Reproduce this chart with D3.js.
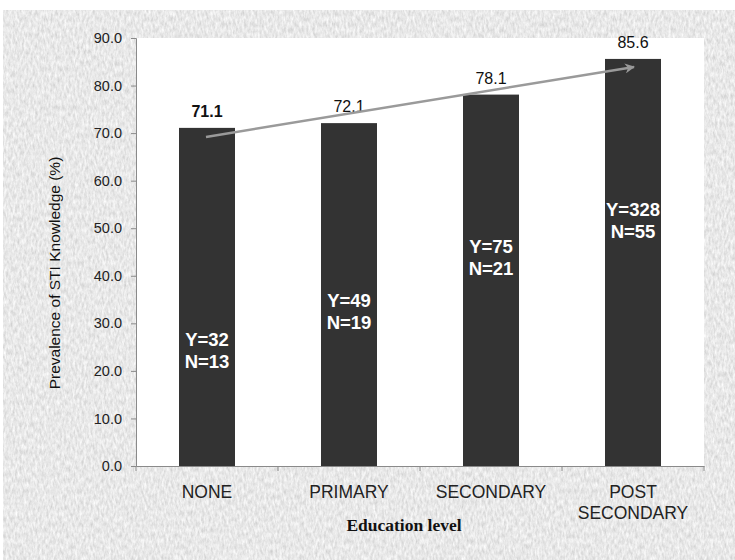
<!DOCTYPE html>
<html><head><meta charset="utf-8">
<script src="https://cdn.jsdelivr.net/npm/d3@7/dist/d3.min.js"></script>
<style>body{margin:0;background:#fff}svg{display:block}</style>
</head><body>
<script>
const categories = ["NONE", "PRIMARY", "SECONDARY", "POST SECONDARY"];
const prevalence = [71.1, 72.1, 78.1, 85.6];
const yesCounts = [32, 49, 75, 328];
const noCounts = [13, 19, 21, 55];
const yTicks = [0, 10, 20, 30, 40, 50, 60, 70, 80, 90];
const trendStart = 69.2, trendEnd = 83.9;
const countLabelAt = [25.2, 33.4, 44.8, 52.6];

const W = 735, H = 560;
const FONT = "Liberation Sans, Arial, sans-serif";
const svg = d3.select("body").append("svg").attr("width", W).attr("height", H);
const defs = svg.append("defs");
const f = defs.append("filter").attr("id", "tex").attr("x", 0).attr("y", 0).attr("width", 1).attr("height", 1);
f.append("feTurbulence").attr("type", "fractalNoise").attr("baseFrequency", "0.45 0.18").attr("numOctaves", 3).attr("seed", 7).attr("result", "n");
f.append("feColorMatrix").attr("in", "n").attr("type", "matrix")
  .attr("values", "0.45 0 0 0 0.585  0.45 0 0 0 0.585  0.45 0 0 0 0.585  0 0 0 0 1");

svg.append("rect").attr("x", 3).attr("y", 10).attr("width", W - 3).attr("height", H - 10)
  .attr("fill", "#d3d3d3").attr("filter", "url(#tex)");

const L = 136, R = 704, T = 38, B = 466;
svg.append("rect").attr("x", L).attr("y", T).attr("width", R - L).attr("height", B - T).attr("fill", "#fff");

const x = d3.scaleBand().domain(categories).range([L, R]).paddingInner(0).paddingOuter(0);
const y = d3.scaleLinear().domain([0, 90]).range([B, T]);
const barW = 56;

// bars
svg.selectAll("rect.bar").data(categories).join("rect").attr("class", "bar")
  .attr("x", d => x(d) + x.bandwidth() / 2 - barW / 2)
  .attr("width", barW)
  .attr("y", (d, i) => y(prevalence[i]))
  .attr("height", (d, i) => B - y(prevalence[i]))
  .attr("fill", "#333333");

// y axis
const yAxis = svg.append("g").attr("transform", `translate(${L},0)`)
  .call(d3.axisLeft(y).tickValues(yTicks).tickFormat(d3.format(".1f")).tickSize(5).tickPadding(9));
yAxis.select(".domain").attr("stroke", "#8a8a8a");
yAxis.selectAll(".tick line").attr("stroke", "#8a8a8a");
yAxis.selectAll("text").attr("font-family", FONT).attr("font-size", 14.5).attr("fill", "#222");

// x axis
const xAxis = svg.append("g").attr("transform", `translate(0,${B})`)
  .call(d3.axisBottom(x).tickSize(0).tickFormat(""));
xAxis.select(".domain").attr("stroke", "#8a8a8a");
svg.selectAll("line.ctick").data(d3.range(categories.length + 1)).join("line").attr("class", "ctick")
  .attr("x1", i => L + i * x.bandwidth()).attr("x2", i => L + i * x.bandwidth())
  .attr("y1", B).attr("y2", B + 5).attr("stroke", "#8a8a8a");

// category labels
categories.forEach(c => {
  const words = c === "POST SECONDARY" ? ["POST", "SECONDARY"] : [c];
  const t = svg.append("text").attr("x", x(c) + x.bandwidth() / 2).attr("y", 497.5)
    .attr("text-anchor", "middle").attr("font-family", FONT)
    .attr("font-size", 17.5).attr("fill", "#222");
  words.forEach((w, k) => t.append("tspan").attr("x", x(c) + x.bandwidth() / 2).attr("dy", k ? 21 : 0).text(w));
});

// value labels
svg.selectAll("text.val").data(categories).join("text").attr("class", "val")
  .attr("x", d => x(d) + x.bandwidth() / 2)
  .attr("y", (d, i) => y(prevalence[i]) - 11)
  .attr("text-anchor", "middle").attr("font-family", FONT)
  .attr("font-size", 16).attr("font-weight", (d, i) => i === 0 ? "bold" : "normal").attr("fill", "#111")
  .text((d, i) => prevalence[i].toFixed(1));

// counts inside bars
categories.forEach((c, i) => {
  const cx = x(c) + x.bandwidth() / 2, cy = y(countLabelAt[i]);
  const t = svg.append("text").attr("text-anchor", "middle")
    .attr("font-family", FONT).attr("font-size", 18.5)
    .attr("font-weight", "bold").attr("fill", "#fff");
  t.append("tspan").attr("x", cx).attr("y", cy).text("Y=" + yesCounts[i]);
  t.append("tspan").attr("x", cx).attr("y", cy + 22).text("N=" + noCounts[i]);
});

// trend arrow
const m = defs.append("marker").attr("id", "ah").attr("viewBox", "0 0 10 10").attr("refX", 9).attr("refY", 5)
  .attr("markerWidth", 4.5).attr("markerHeight", 4).attr("orient", "auto").attr("markerUnits", "strokeWidth");
m.append("path").attr("d", "M0,0 L10,5 L0,10 L3,5 Z").attr("fill", "#999");
const first = categories[0], last = categories[categories.length - 1];
svg.append("line")
  .attr("x1", x(first) + x.bandwidth() / 2 - 1).attr("y1", y(trendStart))
  .attr("x2", x(last) + x.bandwidth() / 2 + 1).attr("y2", y(trendEnd))
  .attr("stroke", "#9a9a9a").attr("stroke-width", 2.5).attr("marker-end", "url(#ah)");

// axis titles
svg.append("text").attr("x", 404).attr("y", 531).attr("text-anchor", "middle")
  .attr("font-family", "Liberation Serif, Times New Roman, serif").attr("font-size", 17.5).attr("font-weight", "bold")
  .attr("fill", "#111").text("Education level");
svg.append("text").attr("transform", "translate(60,273) rotate(-90)").attr("text-anchor", "middle")
  .attr("font-family", FONT).attr("font-size", 15.5).attr("fill", "#111")
  .text("Prevalence of STI Knowledge (%)");
</script>
</body></html>
